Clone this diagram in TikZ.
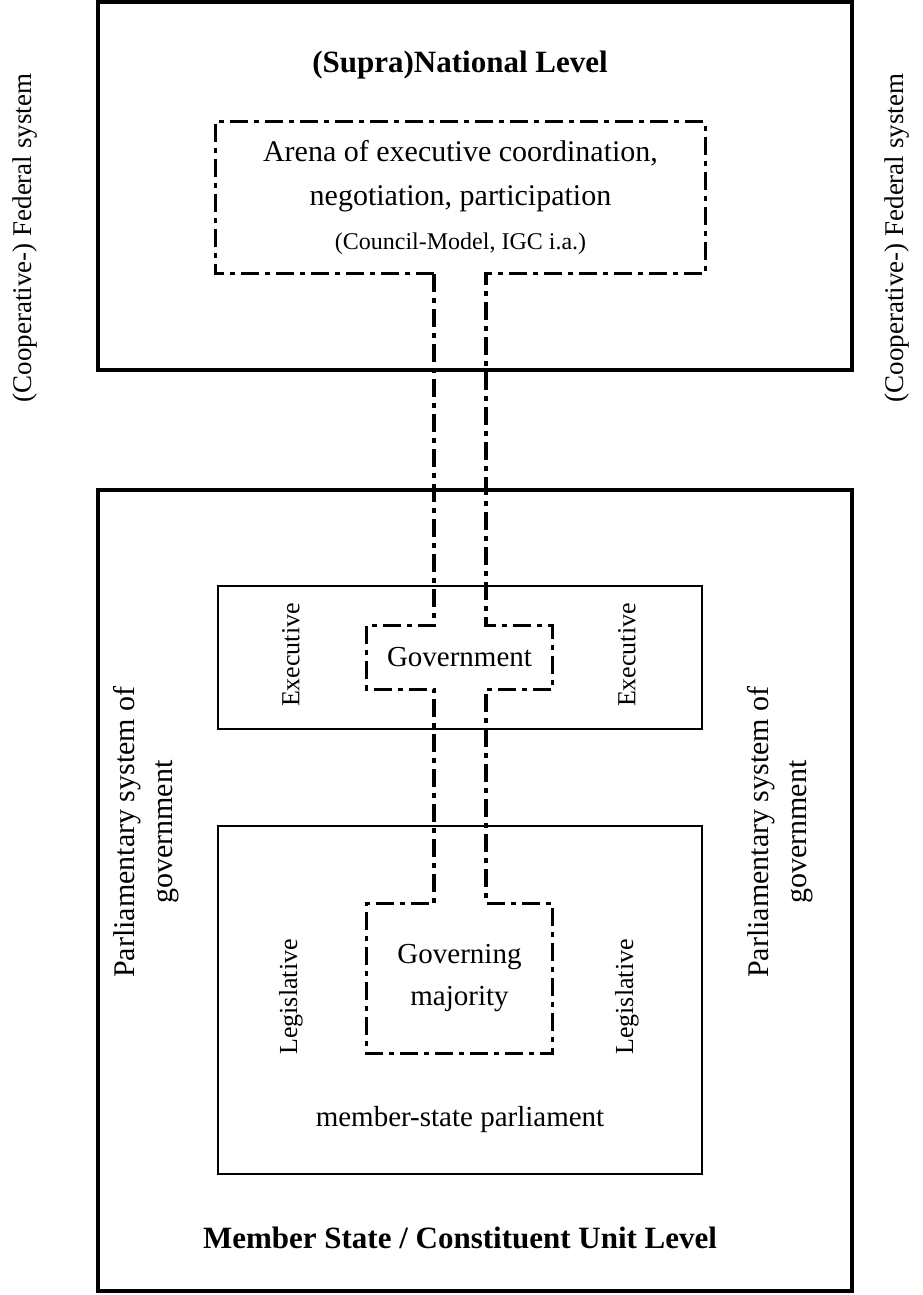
\documentclass[tikz,border=0pt]{standalone}
\usepackage{fontspec}
\setmainfont{Liberation Serif}

\tikzset{
  levelbox/.style={draw, line width=2pt, inner sep=0pt},
  branchbox/.style={draw, line width=1pt, inner sep=0pt},
  arenaline/.style={line width=1.75pt, dash pattern=on 9pt off 3pt on 2.5pt off 3pt},
  leveltitle/.style={font=\bfseries\fontsize{15.5}{18}\selectfont},
  bodytext/.style={font=\fontsize{14.5}{21}\selectfont, align=center, inner sep=0pt},
  sidetext/.style={font=\fontsize{13}{15}\selectfont, rotate=90, inner sep=0pt},
}

\begin{document}
\begin{tikzpicture}[x=0.5pt, y=-0.5pt]
    \useasboundingbox (0,0) rectangle (922,1295);

    % Both levels
    \node[levelbox, minimum width=377pt, minimum height=184pt] (supralevel) at (475,186) {};
    \node[levelbox, minimum width=377pt, minimum height=400.5pt] (statelevel) at (475,890.5) {};
    \node[leveltitle] (supratitle) at (460,65) {(Supra)National Level};
    \node[leveltitle] (statetitle) at (460,1238) {Member State / Constituent Unit Level};

    % Federal system on both sides
    \node[sidetext, font=\fontsize{13.5}{16}\selectfont] (fedL) at (25,238) {(Cooperative-) Federal system};
    \node[sidetext, font=\fontsize{13.5}{16}\selectfont] (fedR) at (897,238) {(Cooperative-) Federal system};

    % Parliamentary system on both sides
    \node[sidetext, font=\fontsize{15}{19}\selectfont, align=center] (parlsysL) at (146,832) {Parliamentary system of\\government};
    \node[sidetext, font=\fontsize{15}{19}\selectfont, align=center] (parlsysR) at (780,832) {Parliamentary system of\\government};

    % Executive and legislative branches
    \node[branchbox, minimum width=242pt, minimum height=71.5pt] (execbox) at (460,657.5) {};
    \node[branchbox, minimum width=242pt, minimum height=174pt] (legisbox) at (460,1000) {};
    \node[sidetext] (execL) at (291,655) {Executive};
    \node[sidetext] (execR) at (627,655) {Executive};
    \node[sidetext] (legisL) at (291,997) {Legislative};
    \node[sidetext] (legisR) at (627,997) {Legislative};
    \node[bodytext] (parl) at (460,1120) {member-state parliament};

    % Arena, government and majority
    \node[bodytext, font=\fontsize{15}{22}\selectfont, minimum width=244.5pt, minimum height=75.5pt] (arena) at (460.5,197.5)
        {Arena of executive coordination,\\negotiation, participation\\[0pt]{\fontsize{12}{14}\selectfont (Council-Model, IGC i.a.)}};
    \node[bodytext, minimum width=92.5pt, minimum height=31.5pt] (gov) at (459.5,657.5) {Government};
    \node[bodytext, minimum width=92.5pt, minimum height=74.5pt] (govmaj) at (459.5,978.5) {Governing\\majority};

    % Channel linking them
    \coordinate (cl) at (434,0);
    \coordinate (cr) at (486,0);
    \draw[arenaline] (arena.south -| cl) -| (arena.north west) -| (arena.south east) -- (arena.south -| cr)
        -- (gov.north -| cr) -| (gov.south east) -- (gov.south -| cr)
        -- (govmaj.north -| cr) -| (govmaj.south east) -| (govmaj.north west) -- (govmaj.north -| cl)
        -- (gov.south -| cl) -| (gov.north west) -- (gov.north -| cl) -- cycle;
\end{tikzpicture}
\end{document}
